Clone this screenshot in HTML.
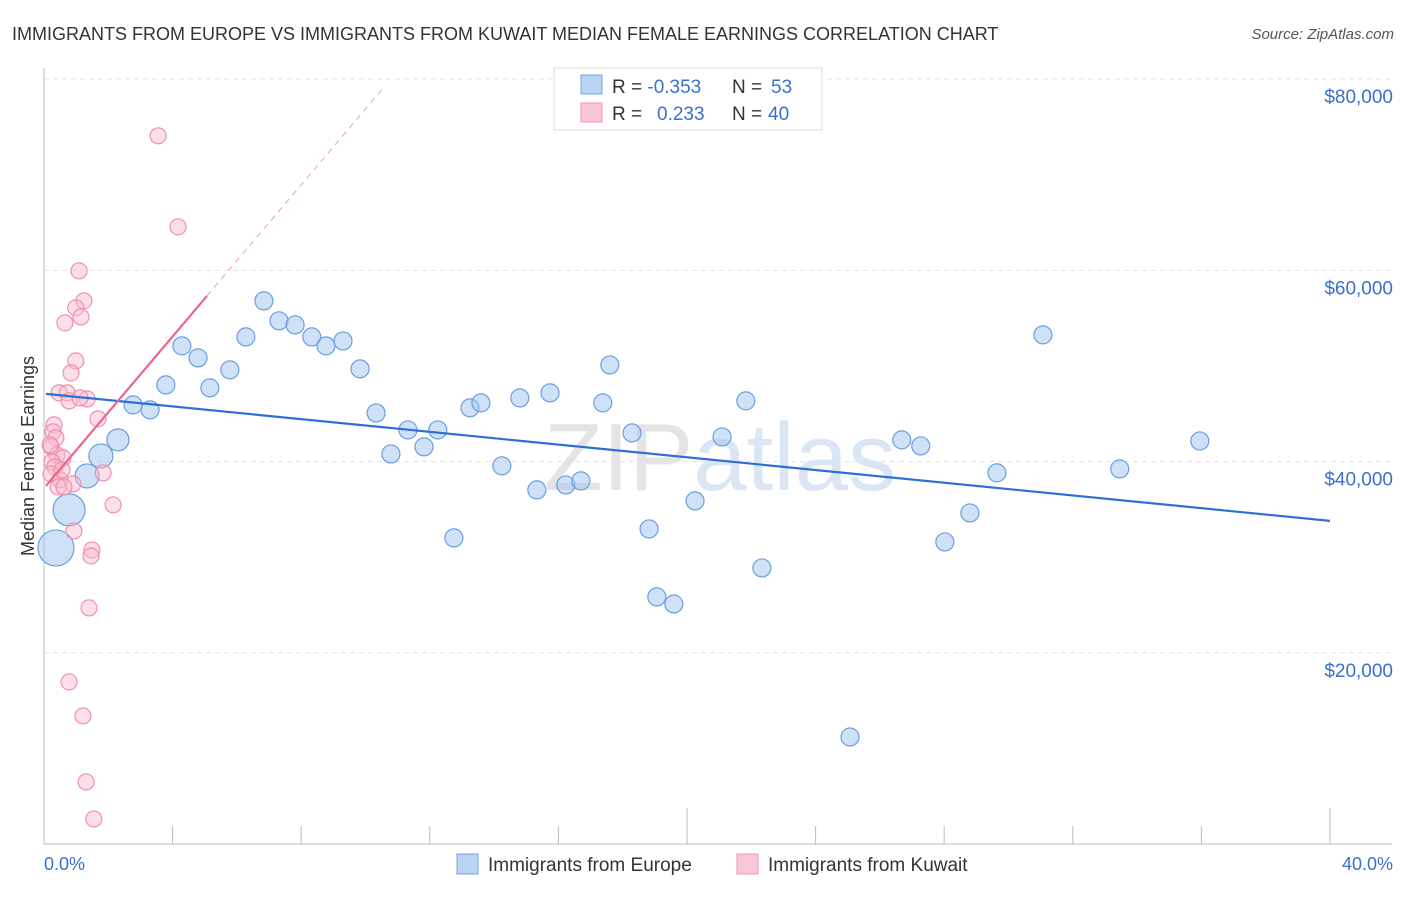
<!DOCTYPE html>
<html><head><meta charset="utf-8"><style>
body{margin:0;background:#fff;font-family:"Liberation Sans",sans-serif}
svg text{font-family:"Liberation Sans",sans-serif}
</style></head><body>
<svg width="1406" height="892" viewBox="0 0 1406 892" xmlns="http://www.w3.org/2000/svg">
<text x="12" y="40" font-size="18" fill="#333">IMMIGRANTS FROM EUROPE VS IMMIGRANTS FROM KUWAIT MEDIAN FEMALE EARNINGS CORRELATION CHART</text>
<text x="1394" y="39" font-size="15" fill="#555" font-style="italic" text-anchor="end">Source: ZipAtlas.com</text>
<text x="720" y="490" font-size="96" fill="#e4e4e4" text-anchor="middle" font-family="Liberation Serif">ZIP<tspan fill="#dbe6f5" font-family="Liberation Sans">atlas</tspan></text>
<g id="grid"></g>
<g id="axes"></g>
<g id="marks"></g>
<text transform="translate(34,456) rotate(-90)" font-size="18" fill="#333" text-anchor="middle">Median Female Earnings</text>
<text x="44" y="870" font-size="18" fill="#3a6fd0">0.0%</text>
<text x="1393" y="870" font-size="18" fill="#3a6fd0" text-anchor="end">40.0%</text>
<g>
<rect x="554" y="68" width="268" height="62" fill="#fff" stroke="#ddd"/>
<rect x="581" y="75" width="21" height="19" fill="#b9d3f5" stroke="#7aa6e0"/>
<rect x="581" y="103" width="21" height="19" fill="#fbc6d6" stroke="#ee9ab4"/>
<text x="612" y="93" font-size="19" fill="#333">R = <tspan fill="#3a6fd0">-0.353</tspan><tspan x="732">N = </tspan><tspan x="771" fill="#3a6fd0">53</tspan></text>
<text x="612" y="120" font-size="19" fill="#333">R = <tspan x="657" fill="#3a6fd0">0.233</tspan><tspan x="732">N = </tspan><tspan x="768" fill="#3a6fd0">40</tspan></text>
</g>
<g>
<rect x="457" y="854" width="21" height="20" fill="#b9d3f5" stroke="#7aa6e0"/>
<text x="488" y="871" font-size="19" fill="#333">Immigrants from Europe</text>
<rect x="737" y="854" width="21" height="20" fill="#fbc6d6" stroke="#ee9ab4"/>
<text x="768" y="871" font-size="19" fill="#333">Immigrants from Kuwait</text>
</g>
</svg>
<script>
const yTicks=[20000,40000,60000,80000];
const yTickLabels=["$20,000","$40,000","$60,000","$80,000"];
const xTicks=[0,4,8,12,16,20,24,28,32,36,40];
const europeX=[0.37,0.78,1.34,1.77,2.30,2.77,3.30,3.79,4.29,4.79,5.16,5.78,6.28,6.84,7.31,7.81,8.33,8.77,9.30,9.83,10.33,10.79,11.32,11.82,12.25,12.75,13.25,13.59,14.24,14.80,15.33,15.74,16.23,16.70,17.38,17.60,18.29,18.82,19.06,19.59,20.25,21.09,21.83,22.33,25.07,26.68,27.27,28.02,28.80,29.64,31.07,33.46,35.95];
const europeY=[30960,34940,38490,40580,42260,45920,45400,48010,52090,50840,47700,49580,53030,56800,54710,54290,53030,52090,52610,49690,45080,40790,43300,41530,43300,32010,45610,46130,39540,46650,37030,47180,37550,37970,46130,50100,42990,32950,25840,25100,35880,42570,46340,28870,11190,42260,41630,31590,34620,38810,53240,39230,42150];
const europeR=[18,16,12,12,11,9,9,9,9,9,9,9,9,9,9,9,9,9,9,9,9,9,9,9,9,9,9,9,9,9,9,9,9,9,9,9,9,9,9,9,9,9,9,9,9,9,9,9,9,9,9,9,9];
const kuwaitX=[3.55,4.17,1.09,1.24,0.99,1.15,0.65,0.99,0.84,0.47,0.72,0.78,1.34,1.12,1.68,0.31,0.28,0.37,0.22,0.40,0.59,0.25,0.34,0.22,1.84,0.50,0.44,0.90,0.62,2.15,0.93,1.49,1.46,1.40,0.78,1.21,1.31,1.55,0.56,0.19];
const kuwaitY=[74060,64540,59940,56800,56070,55120,54500,50520,49270,47180,47180,46340,46550,46650,44460,43830,43100,42470,41530,40690,40380,39960,39440,38700,38810,38080,37340,37660,37340,35460,32740,30750,30120,24690,16950,13390,6490,2620,39120,41740];
const europeTrend=[47090,-332.5];
const kuwaitTrend=[37210,3966];
const NS="http://www.w3.org/2000/svg";
const xS=v=>44+v/40*1286;
const yS=v=>844-v/80000*765;
function mk(t,a,p){const e=document.createElementNS(NS,t);for(const k in a)e.setAttribute(k,a[k]);document.getElementById(p).appendChild(e);return e;}
yTicks.forEach((t,i)=>{
 const l=mk('line',{x1:44,x2:1392,y1:yS(t),y2:yS(t),stroke:'#e2e2e2','stroke-dasharray':'5,4'},'grid');
 
 
 const tx=mk('text',{x:1393,y:yS(t)+24,'font-size':19,fill:'#3a6fd0','text-anchor':'end'},'grid');
 tx.textContent=yTickLabels[i];
 
 
});
const ax=mk('line',{x1:44,x2:1392,y1:844,y2:844,stroke:'#bbb'},'axes');


const ay=mk('line',{x1:44,x2:44,y1:68,y2:844,stroke:'#bbb'},'axes');


xTicks.forEach(t=>{
 const big=(t%20===0&&t>0);
 const l=mk('line',{x1:xS(t),x2:xS(t),y1:big?808:826,y2:844,stroke:'#bbb'},'axes');
 
 
});
europeX.forEach((x,i)=>{
 const c=mk('circle',{cx:xS(x),cy:yS(europeY[i]),r:europeR[i],fill:'rgba(160,196,240,0.5)',stroke:'#6a9ee0','stroke-width':1.2},'marks');
 
 
});
kuwaitX.forEach((x,i)=>{
 const c=mk('circle',{cx:xS(x),cy:yS(kuwaitY[i]),r:8,fill:'rgba(250,185,205,0.45)',stroke:'#ec90ad','stroke-width':1.2},'marks');
 
 
});
const bl=mk('line',{x1:xS(0.06),y1:yS(europeTrend[0]+europeTrend[1]*0.06),x2:xS(40),y2:yS(europeTrend[0]+europeTrend[1]*40),stroke:'#2e6fd6','stroke-width':2.2},'marks');


const pl=mk('line',{x1:xS(0.06),y1:yS(kuwaitTrend[0]+kuwaitTrend[1]*0.06),x2:xS(5.07),y2:yS(kuwaitTrend[0]+kuwaitTrend[1]*5.07),stroke:'#e8658c','stroke-width':2.2},'marks');


const pd=mk('line',{x1:xS(5.07),y1:yS(kuwaitTrend[0]+kuwaitTrend[1]*5.07),x2:xS(10.54),y2:yS(kuwaitTrend[0]+kuwaitTrend[1]*10.54),stroke:'#eba0b6','stroke-width':1,'stroke-dasharray':'6,5'},'marks');


</script>
</body></html>
